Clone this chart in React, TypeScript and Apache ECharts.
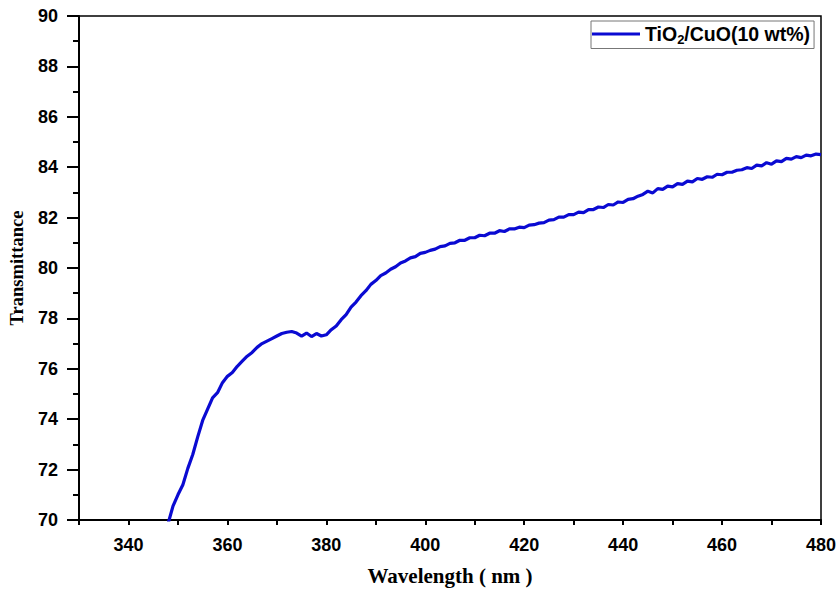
import React, { useEffect, useRef } from "react";
import * as echarts from "echarts";

const wavelengths: number[] = [];
for (let w = 348; w <= 480; w++) wavelengths.push(w);

const transmittance: number[] = [
  69.85, 70.55, 71.0, 71.4, 72.05, 72.6, 73.3, 73.95, 74.4, 74.85,
  75.05, 75.45, 75.7, 75.85, 76.1, 76.3, 76.5, 76.65, 76.85, 77.0,
  77.1, 77.2, 77.3, 77.4, 77.45, 77.48, 77.42, 77.3, 77.42, 77.28,
  77.4, 77.3, 77.35, 77.55, 77.7, 77.95, 78.15, 78.45, 78.65, 78.9,
  79.1, 79.35, 79.5, 79.7, 79.8, 79.95, 80.05, 80.2, 80.28, 80.4,
  80.45, 80.58, 80.62, 80.7, 80.75, 80.85, 80.88, 80.98, 81.0, 81.1,
  81.1, 81.2, 81.2, 81.3, 81.28, 81.38, 81.38, 81.48, 81.45, 81.55,
  81.55, 81.62, 81.6, 81.7, 81.72, 81.78, 81.8, 81.9, 81.92, 82.02,
  82.02, 82.12, 82.12, 82.22, 82.2, 82.32, 82.32, 82.42, 82.4, 82.52,
  82.5, 82.62, 82.6, 82.72, 82.75, 82.85, 82.92, 83.05, 82.98, 83.15,
  83.12, 83.25, 83.22, 83.35, 83.32, 83.45, 83.42, 83.55, 83.52, 83.62,
  83.6, 83.72, 83.7, 83.8, 83.8, 83.88, 83.9, 83.98, 83.95, 84.08,
  84.05, 84.18, 84.12, 84.25, 84.22, 84.35, 84.32, 84.42, 84.38, 84.48,
  84.45, 84.52, 84.5,
];

const seriesName = "TiO2/CuO(10 wt%)";
const xTitle = "Wavelength ( nm )";
const yTitle = "Transmittance";

const SANS = "'Liberation Sans', Arial, sans-serif";
const SERIF = "'Liberation Serif', 'Times New Roman', serif";

export default function App() {
  const ref = useRef<HTMLDivElement>(null);
  useEffect(() => {
    if (!ref.current) return;
    const chart = echarts.init(ref.current, null, { renderer: "svg" });
    const data = wavelengths.map((w, i) => [w, transmittance[i]]);
    chart.setOption({
      animation: false,
      backgroundColor: "#fff",
      grid: {
        left: 79,
        right: 18,
        top: 16,
        bottom: 70,
        containLabel: false,
        outerBoundsMode: "none",
        show: true,
        borderColor: "#000",
        borderWidth: 1.5,
      },
      legend: {
        show: true,
        left: 591,
        top: 21,
        padding: [3, 4, 3, 1],
        borderColor: "#777",
        borderWidth: 1,
        itemWidth: 48,
        itemHeight: 3,
        itemGap: 4,
        icon: "rect",
        data: [seriesName],
        formatter: () => "{a|TiO}{s|2}{a|/CuO(10 wt%)}",
        textStyle: {
          rich: {
            a: { fontFamily: SANS, fontWeight: "bold", fontSize: 19.5, color: "#000" },
            s: {
              fontFamily: SANS,
              fontWeight: "bold",
              fontSize: 13,
              color: "#000",
              verticalAlign: "bottom",
              padding: [10, 0, 0, 0],
            },
          },
        },
      },
      xAxis: {
        type: "value",
        min: 330,
        max: 480,
        interval: 10,
        name: xTitle,
        nameLocation: "middle",
        nameGap: 45,
        nameTextStyle: {
          fontFamily: SERIF,
          fontWeight: "bold",
          fontSize: 21,
          color: "#000",
        },
        axisLine: { show: true, lineStyle: { color: "#000", width: 2 } },
        axisTick: { show: true, inside: false, length: 5, lineStyle: { color: "#000", width: 2 } },
        splitLine: { show: false },
        axisLabel: {
          margin: 16,
          fontFamily: SANS,
          fontWeight: "bold",
          fontSize: 18,
          color: "#000",
          formatter: (v: number) => (v % 20 === 0 ? String(v) : ""),
        },
      },
      yAxis: {
        type: "value",
        min: 70,
        max: 90,
        interval: 2,
        name: yTitle,
        nameLocation: "middle",
        nameGap: 53,
        nameTextStyle: {
          fontFamily: SERIF,
          fontWeight: "bold",
          fontSize: 18.5,
          color: "#000",
        },
        axisLine: { show: true, lineStyle: { color: "#000", width: 2 } },
        axisTick: { show: true, inside: false, length: 12, lineStyle: { color: "#000", width: 2 } },
        minorTick: { show: true, splitNumber: 2, length: 6, lineStyle: { color: "#000", width: 2 } },
        splitLine: { show: false },
        axisLabel: {
          margin: 21,
          fontFamily: SANS,
          fontWeight: "bold",
          fontSize: 18,
          color: "#000",
        },
      },
      series: [
        {
          name: seriesName,
          type: "line",
          data,
          showSymbol: false,
          symbol: "none",
          clip: true,
          lineStyle: { color: "#0a0ad2", width: 3.2 },
          itemStyle: { color: "#0a0ad2" },
        },
      ],
    });
    return () => chart.dispose();
  }, []);
  return (
    <div
      ref={ref}
      style={{ position: "fixed", left: 0, top: 0, width: 839, height: 590 }}
    />
  );
}
